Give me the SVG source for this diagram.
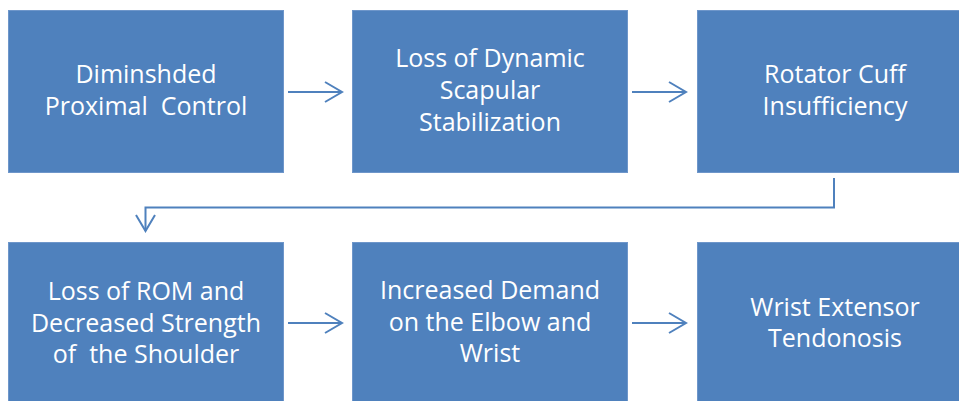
<svg xmlns="http://www.w3.org/2000/svg" width="959" height="401" viewBox="0 0 959 401">
<style>
.box{fill:#4F81BD;stroke:#6E96CA;stroke-width:1}
.lbl{font-family:"Open Sans","Liberation Sans",sans-serif;font-size:25px;fill:#FFFFFF;text-anchor:middle}
.con{fill:none;stroke:#4F81BD;stroke-width:2}
.head{fill:none;stroke:#4F81BD;stroke-width:2;stroke-linejoin:miter}
</style>
<rect width="959" height="401" fill="#FFFFFF"/>
<g id="node1">
<rect class="box" x="8.5" y="10.5" width="275" height="162"/>
<text class="lbl" x="146" y="83">Diminshded</text>
<text class="lbl" x="146" y="115" xml:space="preserve">Proximal  Control</text>
</g>
<g id="node2">
<rect class="box" x="352.5" y="10.5" width="275" height="162"/>
<text class="lbl" x="490" y="67">Loss of Dynamic</text>
<text class="lbl" x="490" y="99">Scapular</text>
<text class="lbl" x="490" y="131">Stabilization</text>
</g>
<g id="node3">
<rect class="box" x="697.5" y="10.5" width="275" height="162"/>
<text class="lbl" x="835" y="83">Rotator Cuff</text>
<text class="lbl" x="835" y="115">Insufficiency</text>
</g>
<g id="node4">
<rect class="box" x="8.5" y="242.5" width="275" height="162"/>
<text class="lbl" x="146" y="300">Loss of ROM and</text>
<text class="lbl" x="146" y="332">Decreased Strength</text>
<text class="lbl" x="146" y="363" xml:space="preserve">of  the Shoulder</text>
</g>
<g id="node5">
<rect class="box" x="352.5" y="242.5" width="275" height="162"/>
<text class="lbl" x="490" y="299">Increased Demand</text>
<text class="lbl" x="490" y="331">on the Elbow and</text>
<text class="lbl" x="490" y="362">Wrist</text>
</g>
<g id="node6">
<rect class="box" x="697.5" y="242.5" width="275" height="162"/>
<text class="lbl" x="835" y="316">Wrist Extensor</text>
<text class="lbl" x="835" y="347">Tendonosis</text>
</g>
<g id="connectors">
<path class="con" d="M288 92 H342"/>
<path class="head" d="M325 82 L342 92 L325 102"/>
<path class="con" d="M632 92 H686"/>
<path class="head" d="M669 82 L686 92 L669 102"/>
<path class="con" d="M834 178 V207.5 H145.5 V231"/>
<path class="head" d="M136 215 L145.5 231 L155 215"/>
<path class="con" d="M288 323 H342"/>
<path class="head" d="M325 313 L342 323 L325 333"/>
<path class="con" d="M632 323 H686"/>
<path class="head" d="M669 313 L686 323 L669 333"/>
</g>
</svg>
